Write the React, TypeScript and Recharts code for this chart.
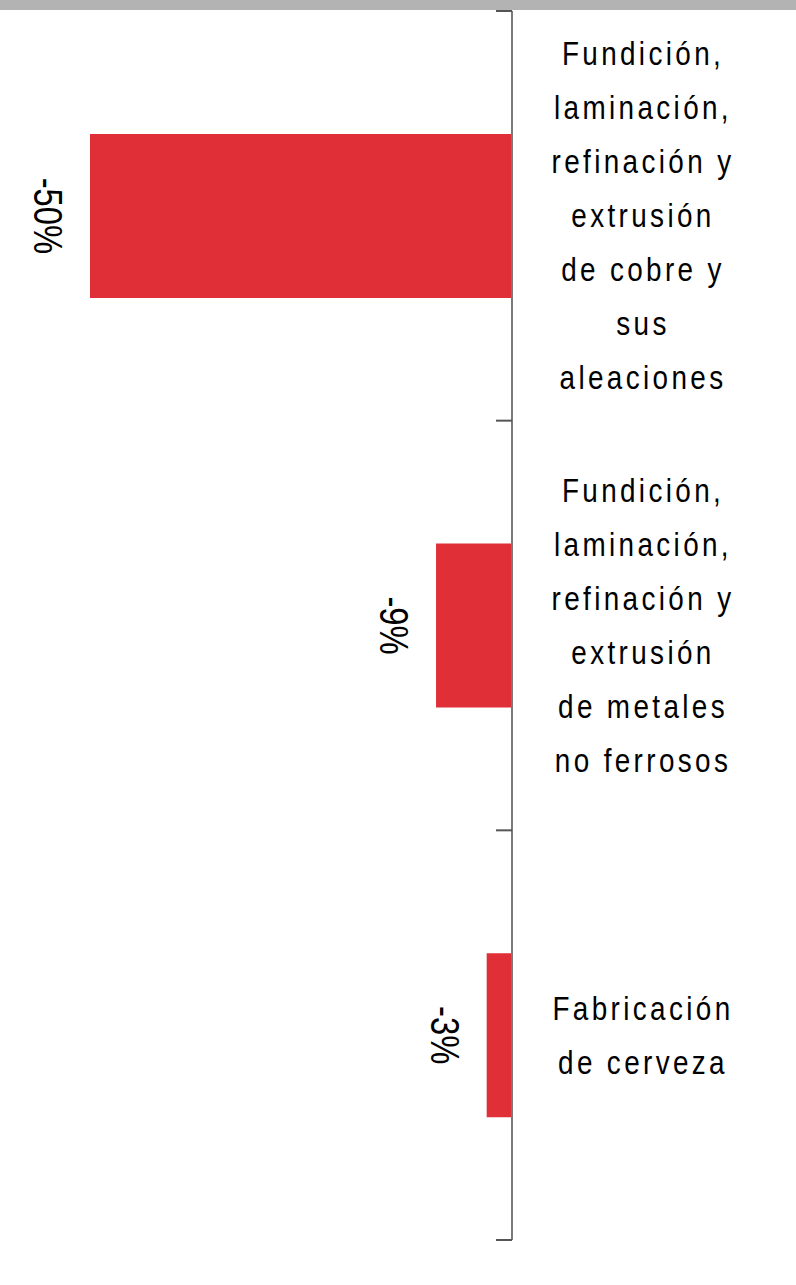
import React from "react";
import { BarChart, Bar, XAxis, YAxis, LabelList } from "recharts";

const categories = [
  "Fundición,\nlaminación,\nrefinación y\nextrusión\nde cobre y\nsus\naleaciones",
  "Fundición,\nlaminación,\nrefinación y\nextrusión\nde metales\nno ferrosos",
  "Fabricación\nde cerveza",
];
const values = [-50, -9, -3];

const data = categories.map((name, i) => ({ name, value: values[i] }));

const FONT = "'Liberation Sans', Arial, sans-serif";
const W = 796;
const H = 1285;
const M = { top: 11, right: 0, bottom: 45, left: 90 };
const AXIS_W = 284;
const AXIS_X = W - AXIS_W;
const BAND = (H - M.top - M.bottom) / categories.length;

const CategoryTick = (props: any) => {
  const { y, payload, index } = props;
  const lines = String(payload.value).split("\n");
  const lh = 54;
  const startY = -((lines.length - 1) * lh) / 2;
  const cx = AXIS_X + 131;
  return (
    <g>
      <line x1={AXIS_X - 16} x2={AXIS_X} y1={y - BAND / 2} y2={y - BAND / 2} stroke="#555" strokeWidth={2} />
      {index === categories.length - 1 && (
        <line x1={AXIS_X - 16} x2={AXIS_X} y1={y + BAND / 2} y2={y + BAND / 2} stroke="#555" strokeWidth={2} />
      )}
      <g transform={`translate(${cx}, ${y}) scale(0.82, 1)`}>
        <text x={0} y={startY} textAnchor="middle" fontFamily={FONT} fontSize={34} letterSpacing={4.1} fill="#000">
          {lines.map((l, i) => (
            <tspan key={i} x={0} y={startY + i * lh} dominantBaseline="central">
              {l}
            </tspan>
          ))}
        </text>
      </g>
    </g>
  );
};

const ValueLabel = (props: any) => {
  const { x, width, y, height, value } = props;
  const left = Math.min(x, x + width);
  const cx = left - 42;
  const cy = y + height / 2;
  return (
    <g transform={`translate(${cx}, ${cy}) rotate(90) scale(0.82, 1)`}>
      <text x={0} y={0} textAnchor="middle" dominantBaseline="central" fontFamily={FONT} fontSize={40} fill="#000">
        {`${value}%`}
      </text>
    </g>
  );
};

export default function App() {
  return (
    <div style={{ position: "absolute", left: 0, top: 0, width: W, height: H, background: "#fff" }}>
      <div style={{ position: "absolute", left: 0, top: 0, width: W, height: 10, background: "#b3b3b3" }} />
      <BarChart width={W} height={H} data={data} layout="vertical" margin={M} barCategoryGap="30%">
        <XAxis type="number" domain={[-50, 0]} hide />
        <YAxis
          type="category"
          dataKey="name"
          orientation="right"
          width={AXIS_W}
          axisLine={{ stroke: "#7a7a7a", strokeWidth: 2 }}
          tickLine={false}
          tick={<CategoryTick />}
          interval={0}
        />
        <Bar dataKey="value" fill="#e02f36" isAnimationActive={false}>
          <LabelList dataKey="value" content={<ValueLabel />} />
        </Bar>
      </BarChart>
    </div>
  );
}
